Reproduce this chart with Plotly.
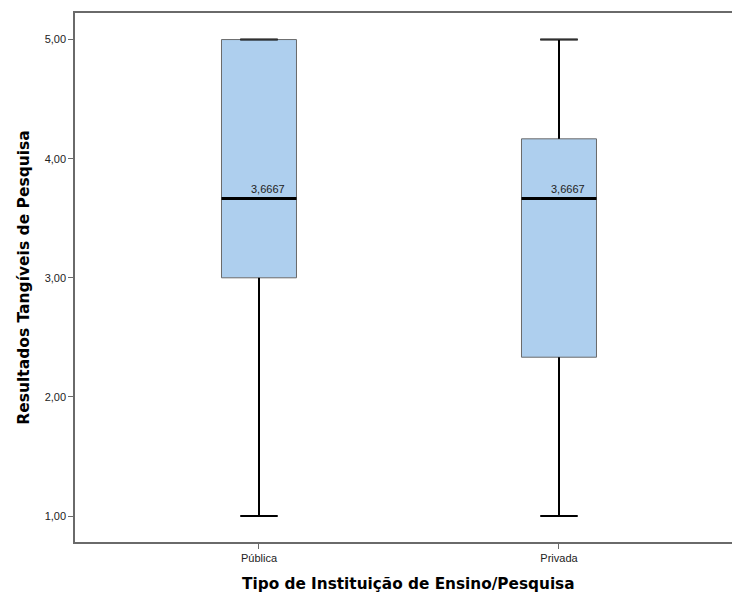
import plotly.graph_objects as go

categories = ["Pública", "Privada"]
lower = [1.0, 1.0]
q1 = [3.0, 2.3333]
median = [3.6667, 3.6667]
q3 = [5.0, 4.1667]
upper = [5.0, 5.0]
median_labels = ["3,6667", "3,6667"]
y_ticks = [1, 2, 3, 4, 5]
y_ticktext = ["1,00", "2,00", "3,00", "4,00", "5,00"]

BOX_W = 0.25
CAP_HW = 0.0625
FONT = "Liberation Sans, Arial, sans-serif"
TFONT = "DejaVu Sans, Verdana, sans-serif"

fig = go.Figure()

# whiskers and caps
for i in range(len(categories)):
    xs = [i, i, None, i, i, None, i - CAP_HW, i + CAP_HW, None, i - CAP_HW, i + CAP_HW]
    ys = [q3[i], upper[i], None, q1[i], lower[i], None, upper[i], upper[i], None, lower[i], lower[i]]
    fig.add_trace(go.Scatter(x=xs, y=ys, mode="lines",
                             line=dict(color="black", width=2),
                             hoverinfo="skip", showlegend=False))

# boxes
for i in range(len(categories)):
    fig.add_trace(go.Box(x=[i], q1=[q1[i]], median=[median[i]], q3=[q3[i]],
                         lowerfence=[q1[i]], upperfence=[q3[i]],
                         width=BOX_W, fillcolor="#AECFEE",
                         line=dict(color="#6a6a6a", width=1),
                         whiskerwidth=0, showlegend=False, boxpoints=False))

# caps on top of boxes (for cap coinciding with box top)
for i in range(len(categories)):
    fig.add_trace(go.Scatter(x=[i - CAP_HW, i + CAP_HW], y=[upper[i], upper[i]], mode="lines",
                             line=dict(color="#333333", width=1),
                             hoverinfo="skip", showlegend=False))

# medians
for i in range(len(categories)):
    fig.add_trace(go.Scatter(x=[i - BOX_W / 2, i + BOX_W / 2], y=[median[i], median[i]], mode="lines",
                             line=dict(color="black", width=3),
                             hoverinfo="skip", showlegend=False))
    fig.add_annotation(x=i + BOX_W / 2, y=median[i], text=median_labels[i],
                       showarrow=False, xanchor="right", yanchor="bottom",
                       xshift=-9, yshift=1,
                       font=dict(family=FONT, size=11, color="#222222"))

fig.add_annotation(x=0.5, xref="x", y=0, yref="paper", yshift=-31,
                   text="<b>Tipo de Instituição de Ensino/Pesquisa</b>",
                   showarrow=False, xanchor="center", yanchor="top",
                   font=dict(family=TFONT, size=15.3, color="black"))

fig.update_layout(
    width=732, height=594,
    margin=dict(l=75, r=0, t=13, b=52),
    plot_bgcolor="white", paper_bgcolor="white",
    font=dict(family=FONT, size=11, color="#222222"),
    showlegend=False,
    xaxis=dict(range=[-0.6133, 1.5767], tickvals=[0, 1], ticktext=categories,
               showgrid=False, zeroline=False,
               showline=True, mirror=True, linecolor="#6a6a6a", linewidth=1.5,
               ticks="outside", ticklen=5, tickcolor="#6a6a6a",
               tickfont=dict(family=FONT, size=11, color="#222222")),
    yaxis=dict(range=[0.782, 5.223], tickvals=y_ticks, ticktext=y_ticktext,
               showgrid=False, zeroline=False,
               showline=True, mirror=False, linecolor="#6a6a6a", linewidth=1.5,
               ticks="outside", ticklen=5, tickcolor="#6a6a6a",
               tickfont=dict(family=FONT, size=11, color="#222222"),
               title=dict(text="<b>Resultados Tangíveis de Pesquisa</b>",
                          font=dict(family=TFONT, size=15.5, color="black"),
                          standoff=11)),
)

fig.write_html("out.html")
